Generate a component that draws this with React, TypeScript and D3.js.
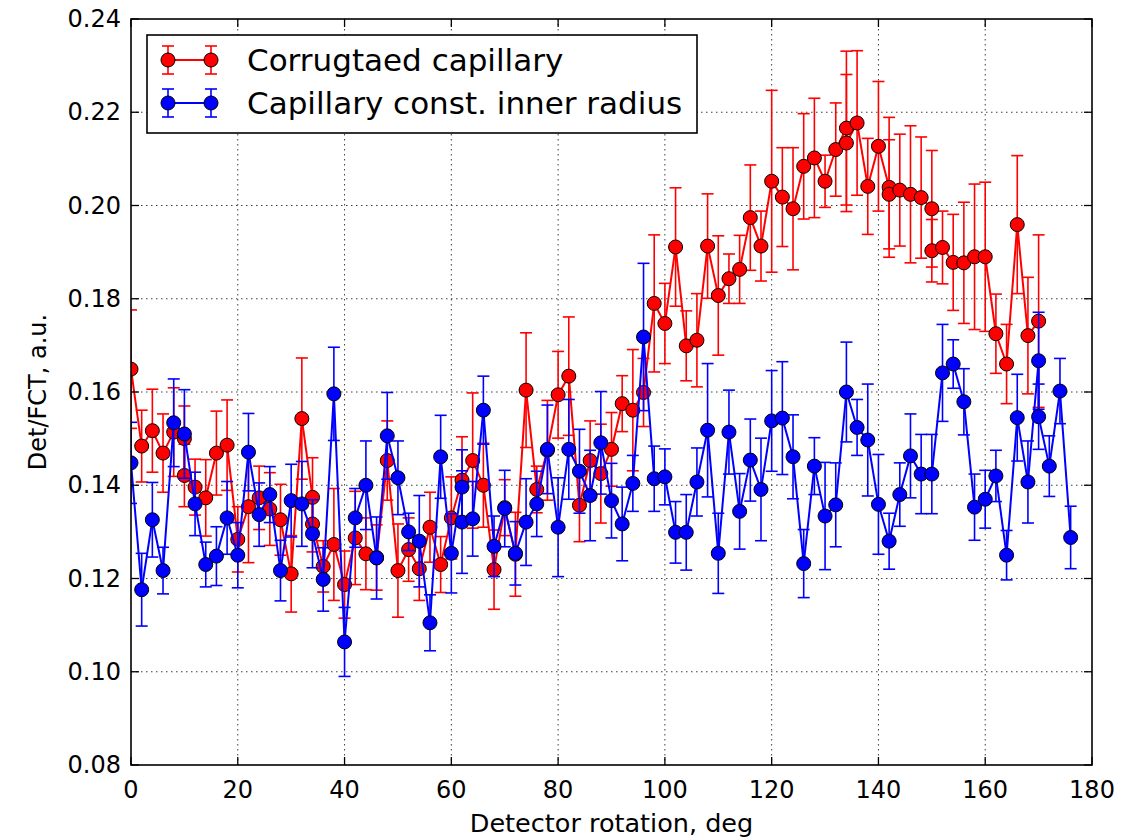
import React from "react";
import * as d3 from "d3";

// Detector angle (deg), normalised signal and one-sigma error per measurement
const corrugatedX = [0, 2, 4, 6, 8, 10, 10, 12, 14, 16, 18, 20, 22, 24, 26, 28, 30, 32, 34, 34, 36, 38, 40, 42, 44, 46, 48, 50, 52, 54, 56, 58, 60, 62, 64, 66, 68, 70, 72, 74, 76, 78, 80, 82, 84, 86, 88, 90, 92, 94, 96, 98, 100, 102, 104, 106, 108, 110, 112, 114, 116, 118, 120, 122, 124, 126, 128, 130, 132, 134, 134, 136, 138, 140, 142, 142, 144, 146, 148, 150, 150, 152, 154, 156, 158, 160, 162, 164, 166, 168, 170];
const corrugatedY = [0.1649, 0.1484, 0.1517, 0.1469, 0.1514, 0.1500, 0.1421, 0.1396, 0.1373, 0.1469, 0.1486, 0.1284, 0.1354, 0.1373, 0.1349, 0.1326, 0.1210, 0.1543, 0.1374, 0.1317, 0.1226, 0.1273, 0.1187, 0.1287, 0.1253, 0.1245, 0.1453, 0.1217, 0.1262, 0.1221, 0.1310, 0.1230, 0.1330, 0.1411, 0.1453, 0.1400, 0.1219, 0.1352, 0.1252, 0.1604, 0.1391, 0.1475, 0.1594, 0.1634, 0.1357, 0.1453, 0.1425, 0.1477, 0.1575, 0.1561, 0.1599, 0.1790, 0.1747, 0.1911, 0.1699, 0.1711, 0.1913, 0.1807, 0.1843, 0.1863, 0.1974, 0.1913, 0.2052, 0.2018, 0.1993, 0.2084, 0.2102, 0.2052, 0.2120, 0.2166, 0.2134, 0.2177, 0.2041, 0.2127, 0.2039, 0.2024, 0.2033, 0.2024, 0.2017, 0.1993, 0.1903, 0.1910, 0.1878, 0.1877, 0.1890, 0.1890, 0.1725, 0.1660, 0.1959, 0.1721, 0.1752];
const corrugatedErr = [0.0127, 0.0077, 0.0089, 0.0084, 0.0095, 0.0070, 0.0067, 0.0060, 0.0082, 0.0090, 0.0097, 0.0070, 0.0120, 0.0068, 0.0078, 0.0076, 0.0082, 0.0130, 0.0085, 0.0060, 0.0055, 0.0120, 0.0072, 0.0100, 0.0077, 0.0070, 0.0085, 0.0100, 0.0068, 0.0068, 0.0075, 0.0060, 0.0088, 0.0093, 0.0145, 0.0090, 0.0085, 0.0060, 0.0090, 0.0123, 0.0050, 0.0107, 0.0093, 0.0127, 0.0078, 0.0085, 0.0106, 0.0079, 0.0060, 0.0130, 0.0073, 0.0147, 0.0086, 0.0127, 0.0075, 0.0100, 0.0112, 0.0128, 0.0053, 0.0073, 0.0113, 0.0075, 0.0195, 0.0106, 0.0131, 0.0113, 0.0128, 0.0056, 0.0100, 0.0165, 0.0147, 0.0155, 0.0103, 0.0139, 0.0150, 0.0117, 0.0120, 0.0147, 0.0130, 0.0125, 0.0067, 0.0078, 0.0103, 0.0130, 0.0156, 0.0160, 0.0085, 0.0085, 0.0148, 0.0125, 0.0185];

const constantX = [0, 2, 4, 6, 8, 10, 12, 14, 16, 18, 20, 22, 24, 26, 28, 30, 32, 34, 36, 38, 40, 42, 44, 46, 48, 50, 52, 54, 56, 58, 60, 62, 62, 64, 66, 68, 70, 72, 74, 76, 78, 80, 82, 84, 86, 88, 90, 92, 94, 96, 98, 100, 102, 104, 106, 108, 110, 112, 114, 116, 118, 120, 122, 124, 126, 128, 130, 132, 134, 136, 138, 140, 142, 144, 146, 148, 150, 152, 154, 156, 158, 160, 162, 164, 166, 168, 170, 170, 172, 174, 176];
const constantY = [0.1448, 0.1176, 0.1326, 0.1217, 0.1534, 0.1510, 0.1360, 0.1230, 0.1248, 0.1330, 0.1250, 0.1471, 0.1337, 0.1380, 0.1217, 0.1367, 0.1360, 0.1296, 0.1198, 0.1596, 0.1064, 0.1330, 0.1400, 0.1244, 0.1506, 0.1416, 0.1300, 0.1280, 0.1105, 0.1461, 0.1254, 0.1396, 0.1321, 0.1328, 0.1561, 0.1269, 0.1350, 0.1254, 0.1321, 0.1360, 0.1477, 0.1310, 0.1477, 0.1430, 0.1378, 0.1491, 0.1367, 0.1317, 0.1404, 0.1718, 0.1414, 0.1418, 0.1299, 0.1299, 0.1407, 0.1518, 0.1254, 0.1514, 0.1344, 0.1454, 0.1391, 0.1538, 0.1544, 0.1461, 0.1232, 0.1441, 0.1334, 0.1358, 0.1600, 0.1524, 0.1497, 0.1359, 0.1280, 0.1380, 0.1463, 0.1424, 0.1424, 0.1641, 0.1660, 0.1579, 0.1353, 0.1370, 0.1420, 0.1250, 0.1545, 0.1407, 0.1667, 0.1547, 0.1441, 0.1602, 0.1288];
const constantErr = [0.0087, 0.0078, 0.0080, 0.0050, 0.0094, 0.0095, 0.0068, 0.0048, 0.0063, 0.0078, 0.0070, 0.0083, 0.0068, 0.0060, 0.0065, 0.0078, 0.0091, 0.0073, 0.0068, 0.0100, 0.0074, 0.0063, 0.0095, 0.0088, 0.0093, 0.0079, 0.0040, 0.0098, 0.0060, 0.0089, 0.0085, 0.0080, 0.0110, 0.0080, 0.0073, 0.0065, 0.0082, 0.0068, 0.0093, 0.0070, 0.0095, 0.0106, 0.0107, 0.0090, 0.0097, 0.0110, 0.0080, 0.0079, 0.0060, 0.0158, 0.0070, 0.0060, 0.0066, 0.0081, 0.0073, 0.0143, 0.0086, 0.0090, 0.0081, 0.0088, 0.0110, 0.0108, 0.0121, 0.0090, 0.0073, 0.0061, 0.0115, 0.0090, 0.0107, 0.0060, 0.0120, 0.0107, 0.0060, 0.0068, 0.0090, 0.0085, 0.0085, 0.0104, 0.0052, 0.0071, 0.0071, 0.0062, 0.0055, 0.0053, 0.0093, 0.0088, 0.0104, 0.0070, 0.0065, 0.0070, 0.0067];

const xTicks = [0, 20, 40, 60, 80, 100, 120, 140, 160, 180];
const yTicks = [0.08, 0.1, 0.12, 0.14, 0.16, 0.18, 0.2, 0.22, 0.24];
const yTickLabels = ["0.08", "0.10", "0.12", "0.14", "0.16", "0.18", "0.20", "0.22", "0.24"];

const seriesNames = ["Corrugtaed capillary", "Capillary const. inner radius"];
const seriesColors = ["#ff0000", "#0000ff"];

const W = 1143;
const H = 840;
const M = { left: 131, right: 1092, top: 19, bottom: 765 };
const FONT = "'DejaVu Sans', sans-serif";

export default function App() {
  const x = d3.scaleLinear().domain([0, 180]).range([M.left, M.right]);
  const y = d3.scaleLinear().domain([0.08, 0.24]).range([M.bottom, M.top]);

  const series = [
    { xs: corrugatedX, ys: corrugatedY, es: corrugatedErr, color: seriesColors[0] },
    { xs: constantX, ys: constantY, es: constantErr, color: seriesColors[1] },
  ];

  const line = d3
    .line<[number, number]>()
    .x((d) => x(d[0]))
    .y((d) => y(d[1]));

  const tickLen = 8;
  const capHalf = 6;
  const r = 7;

  return (
    <svg
      width={W}
      height={H}
      style={{ position: "absolute", left: 0, top: 0, background: "#fff" }}
      fontFamily={FONT}
    >
      <rect x={0} y={0} width={W} height={H} fill="#fff" />
      <defs>
        <clipPath id="plotArea">
          <rect x={M.left} y={M.top} width={M.right - M.left} height={M.bottom - M.top} />
        </clipPath>
      </defs>

      {/* dotted grid */}
      <g stroke="#000" strokeWidth={1} strokeDasharray="1.5,3.5" opacity={0.75}>
        {xTicks.slice(1, -1).map((t) => (
          <line key={"gx" + t} x1={x(t)} x2={x(t)} y1={M.top} y2={M.bottom} />
        ))}
        {yTicks.slice(1, -1).map((t) => (
          <line key={"gy" + t} x1={M.left} x2={M.right} y1={y(t)} y2={y(t)} />
        ))}
      </g>

      {/* data */}
      <g clipPath="url(#plotArea)">
        {series.map((s, si) => {
          const pts: [number, number][] = s.xs.map((xv, i) => [xv, s.ys[i]]);
          return (
            <g key={"s" + si}>
              <g stroke={s.color} strokeWidth={1.6}>
                {pts.map((p, i) => {
                  const cx = x(p[0]);
                  const y1 = y(p[1] + s.es[i]);
                  const y2 = y(p[1] - s.es[i]);
                  return (
                    <g key={i}>
                      <line x1={cx} x2={cx} y1={y1} y2={y2} />
                      <line x1={cx - capHalf} x2={cx + capHalf} y1={y1} y2={y1} />
                      <line x1={cx - capHalf} x2={cx + capHalf} y1={y2} y2={y2} />
                    </g>
                  );
                })}
              </g>
              <path d={line(pts) || ""} fill="none" stroke={s.color} strokeWidth={2} />
              {pts.map((p, i) => (
                <circle
                  key={"m" + i}
                  cx={x(p[0])}
                  cy={y(p[1])}
                  r={r}
                  fill={s.color}
                  stroke="#000"
                  strokeWidth={1}
                />
              ))}
            </g>
          );
        })}
      </g>

      {/* frame and inward ticks */}
      <g stroke="#000" strokeWidth={1.3}>
        {xTicks.map((t) => (
          <g key={"tx" + t}>
            <line x1={x(t)} x2={x(t)} y1={M.bottom} y2={M.bottom - tickLen} />
            <line x1={x(t)} x2={x(t)} y1={M.top} y2={M.top + tickLen} />
          </g>
        ))}
        {yTicks.map((t) => (
          <g key={"ty" + t}>
            <line x1={M.left} x2={M.left + tickLen} y1={y(t)} y2={y(t)} />
            <line x1={M.right} x2={M.right - tickLen} y1={y(t)} y2={y(t)} />
          </g>
        ))}
      </g>
      <rect
        x={M.left}
        y={M.top}
        width={M.right - M.left}
        height={M.bottom - M.top}
        fill="none"
        stroke="#000"
        strokeWidth={1.6}
      />

      {/* tick labels */}
      <g fontSize={24} fill="#000">
        {xTicks.map((t) => (
          <text key={"lx" + t} x={x(t)} y={798} textAnchor="middle">
            {t}
          </text>
        ))}
        {yTicks.map((t, i) => (
          <text key={"ly" + t} x={121} y={y(t)} textAnchor="end" dominantBaseline="central">
            {yTickLabels[i]}
          </text>
        ))}
      </g>

      {/* axis titles */}
      <text x={(M.left + M.right) / 2} y={832} textAnchor="middle" fontSize={25.5} fill="#000">
        Detector rotation, deg
      </text>
      <text
        transform={`translate(46, ${(M.top + M.bottom) / 2}) rotate(-90)`}
        textAnchor="middle"
        fontSize={24}
        fill="#000"
      >
        Det/FCT, a.u.
      </text>

      {/* legend */}
      <g>
        <rect x={147} y={35} width={550} height={98} fill="#fff" stroke="#000" strokeWidth={1.6} />
        {seriesNames.map((name, i) => {
          const ly = 60 + i * 43;
          const c = seriesColors[i];
          return (
            <g key={"leg" + i}>
              <g stroke={c} strokeWidth={1.6}>
                {[168, 211].map((lx) => (
                  <g key={lx}>
                    <line x1={lx} x2={lx} y1={ly - 14} y2={ly + 14} />
                    <line x1={lx - capHalf} x2={lx + capHalf} y1={ly - 14} y2={ly - 14} />
                    <line x1={lx - capHalf} x2={lx + capHalf} y1={ly + 14} y2={ly + 14} />
                  </g>
                ))}
              </g>
              <line x1={168} x2={211} y1={ly} y2={ly} stroke={c} strokeWidth={2} />
              <circle cx={168} cy={ly} r={r} fill={c} stroke="#000" strokeWidth={1} />
              <circle cx={211} cy={ly} r={r} fill={c} stroke="#000" strokeWidth={1} />
              <text x={247} y={ly} dominantBaseline="central" fontSize={31} fill="#000">
                {name}
              </text>
            </g>
          );
        })}
      </g>
    </svg>
  );
}
